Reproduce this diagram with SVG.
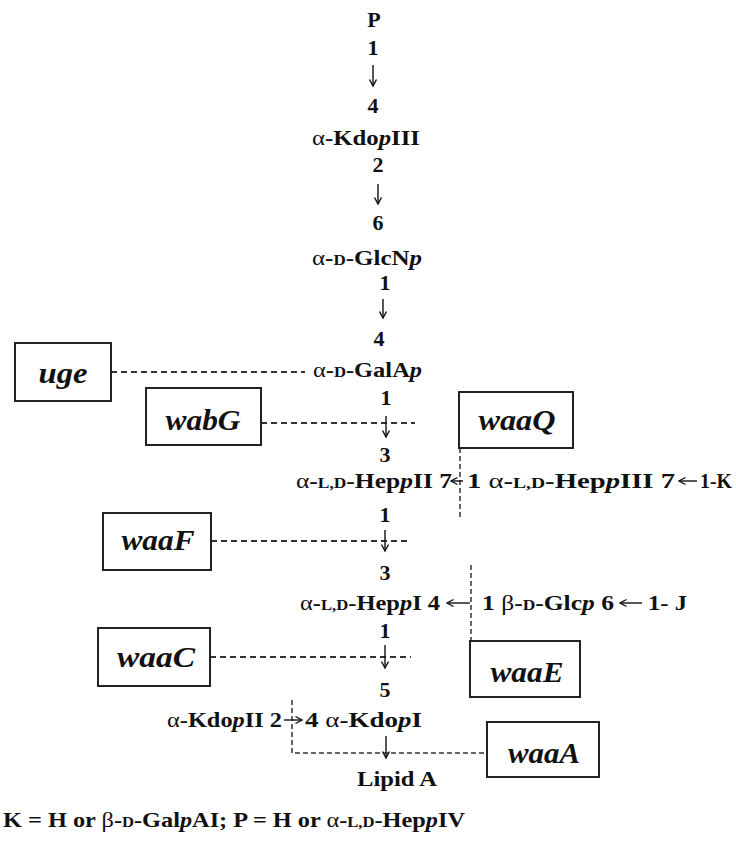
<svg xmlns="http://www.w3.org/2000/svg" width="736" height="852" viewBox="0 0 736 852">
<style>
.t{font-family:"Liberation Serif","Times New Roman",serif;font-weight:bold;font-size:22px;fill:#111}
.m{text-anchor:middle}
.sc{font-size:15px}
.i{font-style:italic}
.g{font-weight:normal}
.lbl{font-family:"Liberation Serif","Times New Roman",serif;font-weight:bold;font-style:italic;font-size:29px;text-anchor:middle;fill:#111}
.box{fill:#fff;stroke:#222;stroke-width:2}
.dash{fill:none;stroke:#333;stroke-width:1.8;stroke-dasharray:6 4}
.vdash{fill:none;stroke:#333;stroke-width:1.5;stroke-dasharray:5 3}
.arr{fill:none;stroke:#111;stroke-width:1.4;marker-end:url(#ah)}
</style>
<defs>
<marker id="ah" markerWidth="10" markerHeight="10" refX="8.5" refY="5" orient="auto" markerUnits="userSpaceOnUse">
<path d="M2,1.5 L8.5,5 L2,8.5" fill="none" stroke="#111" stroke-width="1.4"/>
</marker>
</defs>
<rect width="736" height="852" fill="#fff"/>
<g id="connectors">
<line class="dash" x1="111" y1="372" x2="305" y2="372"/>
<line class="dash" x1="261" y1="423" x2="415" y2="423"/>
<line class="vdash" x1="460" y1="448" x2="460" y2="520"/>
<line class="dash" x1="211" y1="541" x2="411" y2="541"/>
<line class="vdash" x1="471" y1="565" x2="471" y2="641"/>
<line class="dash" x1="210" y1="657" x2="411" y2="657"/>
<polyline class="vdash" points="292,700 292,753 487,753"/>
</g>
<g id="linkages">
<line class="arr" x1="373" y1="65" x2="373" y2="86"/>
<line class="arr" x1="378" y1="184" x2="378" y2="204"/>
<line class="arr" x1="383" y1="299" x2="383" y2="318"/>
<line class="arr" x1="386" y1="416" x2="386" y2="437"/>
<line class="arr" x1="385" y1="530" x2="385" y2="551"/>
<line class="arr" x1="385" y1="645" x2="385" y2="668"/>
<line class="arr" x1="386" y1="736" x2="386" y2="758"/>
<line class="arr" x1="463" y1="481" x2="451" y2="481"/>
<line class="arr" x1="697" y1="481" x2="679" y2="481"/>
<line class="arr" x1="470" y1="603" x2="447" y2="603"/>
<line class="arr" x1="642" y1="603" x2="620" y2="603"/>
<line class="arr" x1="284" y1="720" x2="302" y2="720"/>
</g>
<g id="chain">
<text class="t m" x="374" y="27">P</text>
<text class="t m" x="373" y="55">1</text>
<text class="t m" x="373" y="113">4</text>
<text class="t" x="312" y="145" textLength="108" lengthAdjust="spacingAndGlyphs"><tspan class="g">α</tspan>-Kdo<tspan class="i">p</tspan>III</text>
<text class="t m" x="378" y="172">2</text>
<text class="t m" x="378" y="230">6</text>
<text class="t" x="312" y="265" textLength="110" lengthAdjust="spacingAndGlyphs"><tspan class="g">α</tspan>-<tspan class="sc">D</tspan>-GlcN<tspan class="i">p</tspan></text>
<text class="t m" x="385" y="290">1</text>
<text class="t m" x="379" y="346">4</text>
<text class="t" x="313" y="377" textLength="109" lengthAdjust="spacingAndGlyphs"><tspan class="g">α</tspan>-<tspan class="sc">D</tspan>-GalA<tspan class="i">p</tspan></text>
<text class="t m" x="386" y="405">1</text>
<text class="t m" x="385" y="462">3</text>
<text class="t" x="296" y="488" textLength="156" lengthAdjust="spacingAndGlyphs"><tspan class="g">α</tspan>-<tspan class="sc">L,D</tspan>-Hep<tspan class="i">p</tspan>II 7</text>
<text class="t" x="467" y="488" textLength="208" lengthAdjust="spacingAndGlyphs">1 <tspan class="g">α</tspan>-<tspan class="sc">L,D</tspan>-Hep<tspan class="i">p</tspan>III 7</text>
<text class="t" x="700" y="488" textLength="32" lengthAdjust="spacingAndGlyphs">1-K</text>
<text class="t m" x="385" y="522">1</text>
<text class="t m" x="385" y="580">3</text>
<text class="t" x="300" y="610" textLength="140" lengthAdjust="spacingAndGlyphs"><tspan class="g">α</tspan>-<tspan class="sc">L,D</tspan>-Hep<tspan class="i">p</tspan>I  4</text>
<text class="t" x="482" y="610" textLength="132" lengthAdjust="spacingAndGlyphs">1 <tspan class="g">β</tspan>-<tspan class="sc">D</tspan>-Glc<tspan class="i">p</tspan> 6</text>
<text class="t" x="648" y="610" textLength="39" lengthAdjust="spacingAndGlyphs">1- J</text>
<text class="t m" x="385" y="638">1</text>
<text class="t m" x="385" y="697">5</text>
<text class="t" x="167" y="727" textLength="115" lengthAdjust="spacingAndGlyphs"><tspan class="g">α</tspan>-Kdo<tspan class="i">p</tspan>II 2</text>
<text class="t" x="305" y="727" textLength="117" lengthAdjust="spacingAndGlyphs">4 <tspan class="g">α</tspan>-Kdo<tspan class="i">p</tspan>I</text>
<text class="t" x="357" y="786" textLength="80" lengthAdjust="spacingAndGlyphs">Lipid A</text>
</g>
<g id="uge"><rect class="box" x="15" y="343" width="96" height="58"/><text class="lbl" x="63" y="383" textLength="49" lengthAdjust="spacingAndGlyphs">uge</text></g>
<g id="wabG"><rect class="box" x="146" y="388" width="115" height="57"/><text class="lbl" x="203" y="430" textLength="75" lengthAdjust="spacingAndGlyphs">wabG</text></g>
<g id="waaQ"><rect class="box" x="459" y="392" width="114" height="56"/><text class="lbl" x="517" y="430" textLength="77" lengthAdjust="spacingAndGlyphs">waaQ</text></g>
<g id="waaF"><rect class="box" x="103" y="513" width="108" height="57"/><text class="lbl" x="158" y="550" textLength="73" lengthAdjust="spacingAndGlyphs">waaF</text></g>
<g id="waaE"><rect class="box" x="470" y="641" width="110" height="56"/><text class="lbl" x="527" y="682" textLength="73" lengthAdjust="spacingAndGlyphs">waaE</text></g>
<g id="waaC"><rect class="box" x="98" y="628" width="112" height="58"/><text class="lbl" x="156" y="667" textLength="78" lengthAdjust="spacingAndGlyphs">waaC</text></g>
<g id="waaA"><rect class="box" x="487" y="722" width="112" height="55"/><text class="lbl" x="544" y="763" textLength="72" lengthAdjust="spacingAndGlyphs">waaA</text></g>
<g id="footnote">
<text class="t" x="3" y="827" font-size="21" textLength="462" lengthAdjust="spacingAndGlyphs">K = H or <tspan class="g">β</tspan>-<tspan class="sc">D</tspan>-Gal<tspan class="i">p</tspan>AI; P = H or <tspan class="g">α</tspan>-<tspan class="sc">L,D</tspan>-Hep<tspan class="i">p</tspan>IV</text>
</g>
</svg>
